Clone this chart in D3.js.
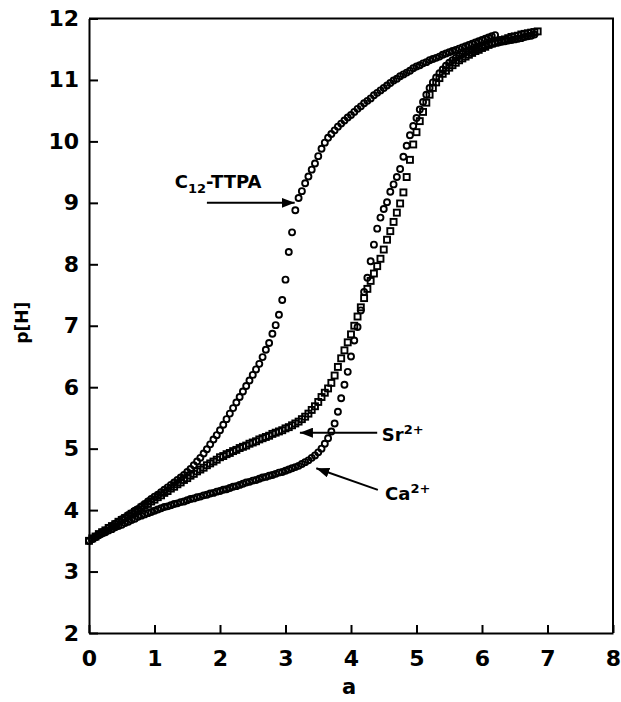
<!DOCTYPE html>
<html>
<head>
<meta charset="utf-8">
<script src="https://cdn.jsdelivr.net/npm/d3@7/dist/d3.min.js"></script>
<style>
  body { margin: 0; background: #fff; }
  svg text { font-family: 'DejaVu Sans', sans-serif; fill: #000; }
</style>
</head>
<body>
<div id="chart"></div>
<script>
// Titration curves: [a, p[H]]

// C12-TTPA alone (circles)
const c12Data = [
  [0.00,3.50],[0.05,3.53],[0.10,3.57],[0.15,3.60],[0.20,3.64],[0.25,3.67],[0.30,3.71],[0.35,3.74],
  [0.40,3.78],[0.45,3.81],[0.50,3.85],[0.55,3.88],[0.60,3.92],[0.65,3.95],[0.70,3.99],[0.75,4.02],
  [0.80,4.06],[0.85,4.10],[0.90,4.14],[0.95,4.18],[1.00,4.22],[1.05,4.25],[1.10,4.29],[1.15,4.33],
  [1.20,4.37],[1.25,4.41],[1.30,4.45],[1.35,4.49],[1.40,4.53],[1.45,4.57],[1.50,4.62],[1.55,4.67],
  [1.60,4.73],[1.65,4.79],[1.70,4.85],[1.75,4.92],[1.80,4.99],[1.85,5.07],[1.90,5.15],[1.95,5.22],
  [2.00,5.30],[2.05,5.39],[2.10,5.48],[2.15,5.57],[2.20,5.66],[2.25,5.75],[2.30,5.84],[2.35,5.93],
  [2.40,6.02],[2.45,6.11],[2.50,6.20],[2.55,6.29],[2.60,6.38],[2.65,6.49],[2.70,6.61],[2.75,6.72],
  [2.80,6.87],[2.85,7.01],[2.90,7.18],[2.95,7.42],[3.00,7.75],[3.05,8.20],[3.10,8.52],[3.15,8.88],
  [3.20,9.08],[3.25,9.19],[3.30,9.32],[3.35,9.43],[3.40,9.54],[3.45,9.64],[3.50,9.76],[3.55,9.88],
  [3.60,9.98],[3.65,10.06],[3.70,10.12],[3.75,10.18],[3.80,10.24],[3.85,10.29],[3.90,10.34],[3.95,10.39],
  [4.00,10.43],[4.05,10.48],[4.10,10.53],[4.15,10.57],[4.20,10.62],[4.25,10.66],[4.30,10.70],[4.35,10.75],
  [4.40,10.79],[4.45,10.83],[4.50,10.87],[4.55,10.91],[4.60,10.95],[4.65,10.99],[4.70,11.02],[4.75,11.06],
  [4.80,11.09],[4.85,11.12],[4.90,11.15],[4.95,11.19],[5.00,11.22],[5.05,11.24],[5.10,11.27],[5.15,11.29],
  [5.20,11.32],[5.25,11.34],[5.30,11.36],[5.35,11.38],[5.40,11.41],[5.45,11.43],[5.50,11.45],[5.55,11.47],
  [5.60,11.49],[5.65,11.51],[5.70,11.53],[5.75,11.55],[5.80,11.57],[5.85,11.59],[5.90,11.61],[5.95,11.63],
  [6.00,11.65],[6.05,11.67],[6.10,11.69],[6.15,11.71],[6.20,11.73]
];

// with Ca2+ (circles)
const caData = [
  [0.00,3.50],[0.05,3.53],[0.10,3.56],[0.15,3.59],[0.20,3.62],[0.25,3.64],[0.30,3.67],[0.35,3.69],
  [0.40,3.72],[0.45,3.74],[0.50,3.76],[0.55,3.79],[0.60,3.81],[0.65,3.84],[0.70,3.86],[0.75,3.89],
  [0.80,3.91],[0.85,3.93],[0.90,3.95],[0.95,3.97],[1.00,3.99],[1.05,4.01],[1.10,4.03],[1.15,4.05],
  [1.20,4.06],[1.25,4.08],[1.30,4.10],[1.35,4.11],[1.40,4.13],[1.45,4.14],[1.50,4.16],[1.55,4.18],
  [1.60,4.19],[1.65,4.21],[1.70,4.22],[1.75,4.24],[1.80,4.25],[1.85,4.27],[1.90,4.28],[1.95,4.30],
  [2.00,4.31],[2.05,4.33],[2.10,4.34],[2.15,4.36],[2.20,4.38],[2.25,4.39],[2.30,4.41],[2.35,4.43],
  [2.40,4.45],[2.45,4.46],[2.50,4.48],[2.55,4.49],[2.60,4.51],[2.65,4.53],[2.70,4.54],[2.75,4.56],
  [2.80,4.57],[2.85,4.59],[2.90,4.61],[2.95,4.62],[3.00,4.64],[3.05,4.66],[3.10,4.68],[3.15,4.70],
  [3.20,4.72],[3.25,4.75],[3.30,4.78],[3.35,4.81],[3.40,4.85],[3.45,4.89],[3.50,4.94],[3.55,5.00],
  [3.60,5.08],[3.65,5.17],[3.70,5.28],[3.75,5.41],[3.80,5.60],[3.85,5.82],[3.90,6.04],[3.95,6.25],
  [4.00,6.50],[4.05,6.76],[4.10,6.98],[4.15,7.25],[4.20,7.55],[4.25,7.78],[4.30,8.05],[4.35,8.32],
  [4.40,8.58],[4.45,8.76],[4.50,8.90],[4.55,9.01],[4.60,9.18],[4.65,9.30],[4.70,9.42],[4.75,9.55],
  [4.80,9.75],[4.85,9.93],[4.90,10.10],[4.95,10.25],[5.00,10.38],[5.05,10.52],[5.10,10.64],[5.15,10.76],
  [5.20,10.87],[5.25,10.96],[5.30,11.04],[5.35,11.11],[5.40,11.17],[5.45,11.23],[5.50,11.28],[5.55,11.32],
  [5.60,11.36],[5.65,11.39],[5.70,11.42],[5.75,11.45],[5.80,11.47],[5.85,11.49],[5.90,11.51],[5.95,11.53],
  [6.00,11.55],[6.05,11.56],[6.10,11.58],[6.15,11.59],[6.20,11.60],[6.25,11.61],[6.30,11.62],[6.35,11.63],
  [6.40,11.64],[6.45,11.65],[6.50,11.66],[6.55,11.67],[6.60,11.68],[6.65,11.70],[6.70,11.71],[6.75,11.72],
  [6.80,11.74]
];

// with Sr2+ (squares)
const srData = [
  [0.00,3.50],[0.05,3.54],[0.10,3.57],[0.15,3.61],[0.20,3.64],[0.25,3.67],[0.30,3.71],[0.35,3.74],
  [0.40,3.77],[0.45,3.81],[0.50,3.84],[0.55,3.87],[0.60,3.90],[0.65,3.94],[0.70,3.97],[0.75,4.00],
  [0.80,4.04],[0.85,4.07],[0.90,4.10],[0.95,4.14],[1.00,4.17],[1.05,4.21],[1.10,4.24],[1.15,4.28],
  [1.20,4.31],[1.25,4.35],[1.30,4.38],[1.35,4.42],[1.40,4.45],[1.45,4.49],[1.50,4.52],[1.55,4.56],
  [1.60,4.59],[1.65,4.63],[1.70,4.66],[1.75,4.69],[1.80,4.73],[1.85,4.76],[1.90,4.79],[1.95,4.82],
  [2.00,4.86],[2.05,4.88],[2.10,4.91],[2.15,4.93],[2.20,4.96],[2.25,4.98],[2.30,5.01],[2.35,5.03],
  [2.40,5.05],[2.45,5.08],[2.50,5.10],[2.55,5.12],[2.60,5.15],[2.65,5.17],[2.70,5.19],[2.75,5.21],
  [2.80,5.24],[2.85,5.26],[2.90,5.28],[2.95,5.30],[3.00,5.33],[3.05,5.35],[3.10,5.38],[3.15,5.41],
  [3.20,5.44],[3.25,5.48],[3.30,5.52],[3.35,5.57],[3.40,5.63],[3.45,5.69],[3.50,5.76],[3.55,5.84],
  [3.60,5.91],[3.65,5.98],[3.70,6.07],[3.75,6.19],[3.80,6.33],[3.85,6.47],[3.90,6.60],[3.95,6.73],
  [4.00,6.86],[4.05,7.00],[4.10,7.15],[4.15,7.30],[4.20,7.45],[4.25,7.60],[4.30,7.73],[4.35,7.85],
  [4.40,7.97],[4.45,8.09],[4.50,8.24],[4.55,8.40],[4.60,8.54],[4.65,8.69],[4.70,8.84],[4.75,8.99],
  [4.80,9.17],[4.85,9.42],[4.90,9.70],[4.95,9.95],[5.00,10.15],[5.05,10.33],[5.10,10.48],[5.15,10.63],
  [5.20,10.76],[5.25,10.87],[5.30,10.96],[5.35,11.03],[5.40,11.10],[5.45,11.15],[5.50,11.20],[5.55,11.24],
  [5.60,11.28],[5.65,11.32],[5.70,11.35],[5.75,11.38],[5.80,11.41],[5.85,11.44],[5.90,11.47],[5.95,11.49],
  [6.00,11.52],[6.05,11.54],[6.10,11.57],[6.15,11.59],[6.20,11.61],[6.25,11.63],[6.30,11.65],[6.35,11.66],
  [6.40,11.68],[6.45,11.70],[6.50,11.71],[6.55,11.72],[6.60,11.74],[6.65,11.75],[6.70,11.76],[6.75,11.77],
  [6.80,11.78],[6.85,11.79]
];

const xTicks = [0, 1, 2, 3, 4, 5, 6, 7, 8];
const yTicks = [2, 3, 4, 5, 6, 7, 8, 9, 10, 11, 12];

// Labels with arrows, in data units: text anchor, arrow tail, arrow tip
const labels = [
  {main: 'C', small: '12', rest: '-TTPA', shift: 5,  text: [1.31, 9.24], from: [1.80, 9.00], to: [3.14, 9.00]},
  {main: 'Sr', small: '2+', rest: '',     shift: -7, text: [4.47, 5.12], from: [4.40, 5.26], to: [3.22, 5.26]},
  {main: 'Ca', small: '2+', rest: '',     shift: -7, text: [4.52, 4.16], from: [4.41, 4.33], to: [3.47, 4.68]}
];

// Constant
const width = 621;
const height = 702;
const plotLeft = 89, plotRight = 613, plotTop = 18.5, plotBottom = 633;
const markerR = 3;
const squareSide = 6;
const markerStroke = 1.9;
const tickFont = '22px';

const xScale = d3.scaleLinear().domain([0, 8]).range([plotLeft, plotRight]);
const yScale = d3.scaleLinear().domain([2, 12]).range([plotBottom, plotTop]);

const svg = d3.select('#chart')
  .append('svg')
    .attr('width', width)
    .attr('height', height);

svg.append('defs').append('marker')
    .attr('id', 'head')
    .attr('markerUnits', 'userSpaceOnUse')
    .attr('markerWidth', 14)
    .attr('markerHeight', 10)
    .attr('refX', 13)
    .attr('refY', 5)
    .attr('orient', 'auto')
  .append('path')
    .attr('d', 'M0,0 L13,5 L0,10 Z')
    .attr('fill', '#000');

// Axes, ticks pointing inward
const yAxis = svg.append('g')
    .attr('transform', `translate(${plotLeft},0)`)
    .call(d3.axisLeft(yScale).tickValues(yTicks).tickSizeInner(-9).tickSizeOuter(0).tickPadding(10));

const xAxis = svg.append('g')
    .attr('transform', `translate(0,${plotBottom})`)
    .call(d3.axisBottom(xScale).tickValues(xTicks).tickSizeInner(-8).tickSizeOuter(0).tickPadding(17));

[xAxis, yAxis].forEach(ax => {
  ax.select('.domain').attr('stroke', '#000').attr('stroke-width', 2);
  ax.selectAll('.tick line').attr('stroke', '#000').attr('stroke-width', 2);
  ax.selectAll('.tick text')
      .style('font-family', "'DejaVu Sans', sans-serif")
      .style('font-size', tickFont)
      .style('font-weight', 'bold')
      .attr('fill', '#000');
});

// Frame: top and right
svg.append('path')
    .attr('d', `M${plotLeft},${plotTop}H${plotRight}V${plotBottom}`)
    .attr('fill', 'none')
    .attr('stroke', '#000')
    .attr('stroke-width', 2);

// Axis titles
svg.append('text')
    .attr('x', (plotLeft + plotRight) / 2 - 2)
    .attr('y', 694)
    .attr('text-anchor', 'middle')
    .style('font-size', '21px')
    .style('font-weight', 'bold')
    .text('a');

svg.append('text')
    .attr('transform', `translate(28,${(plotTop + plotBottom) / 2 - 3}) rotate(-90)`)
    .attr('text-anchor', 'middle')
    .style('font-size', '17px')
    .style('font-weight', 'bold')
    .text('p[H]');

// Points
const plot = svg.append('g');

plot.selectAll('.c12Point')
  .data(c12Data)
  .enter()
  .append('circle')
    .attr('class', 'c12Point')
    .attr('cx', d => xScale(d[0]))
    .attr('cy', d => yScale(d[1]))
    .attr('r', markerR)
    .attr('fill', 'none')
    .attr('stroke', '#000')
    .attr('stroke-width', markerStroke);

plot.selectAll('.srPoint')
  .data(srData)
  .enter()
  .append('rect')
    .attr('class', 'srPoint')
    .attr('x', d => xScale(d[0]) - squareSide / 2)
    .attr('y', d => yScale(d[1]) - squareSide / 2)
    .attr('width', squareSide)
    .attr('height', squareSide)
    .attr('fill', 'none')
    .attr('stroke', '#000')
    .attr('stroke-width', markerStroke);

plot.selectAll('.caPoint')
  .data(caData)
  .enter()
  .append('circle')
    .attr('class', 'caPoint')
    .attr('cx', d => xScale(d[0]))
    .attr('cy', d => yScale(d[1]))
    .attr('r', markerR)
    .attr('fill', 'none')
    .attr('stroke', '#000')
    .attr('stroke-width', markerStroke);

// Labels and arrows
labels.forEach(l => {
  svg.append('line')
      .attr('x1', xScale(l.from[0]))
      .attr('y1', yScale(l.from[1]))
      .attr('x2', xScale(l.to[0]))
      .attr('y2', yScale(l.to[1]))
      .attr('stroke', '#000')
      .attr('stroke-width', 2)
      .attr('marker-end', 'url(#head)');

  const t = svg.append('text')
      .attr('x', xScale(l.text[0]))
      .attr('y', yScale(l.text[1]))
      .style('font-size', '18px')
      .style('font-weight', 'bold');
  t.append('tspan').text(l.main);
  t.append('tspan').attr('dy', l.shift).style('font-size', '13px').text(l.small);
  if (l.rest) t.append('tspan').attr('dy', -l.shift).text(l.rest);
});
</script>
</body>
</html>
